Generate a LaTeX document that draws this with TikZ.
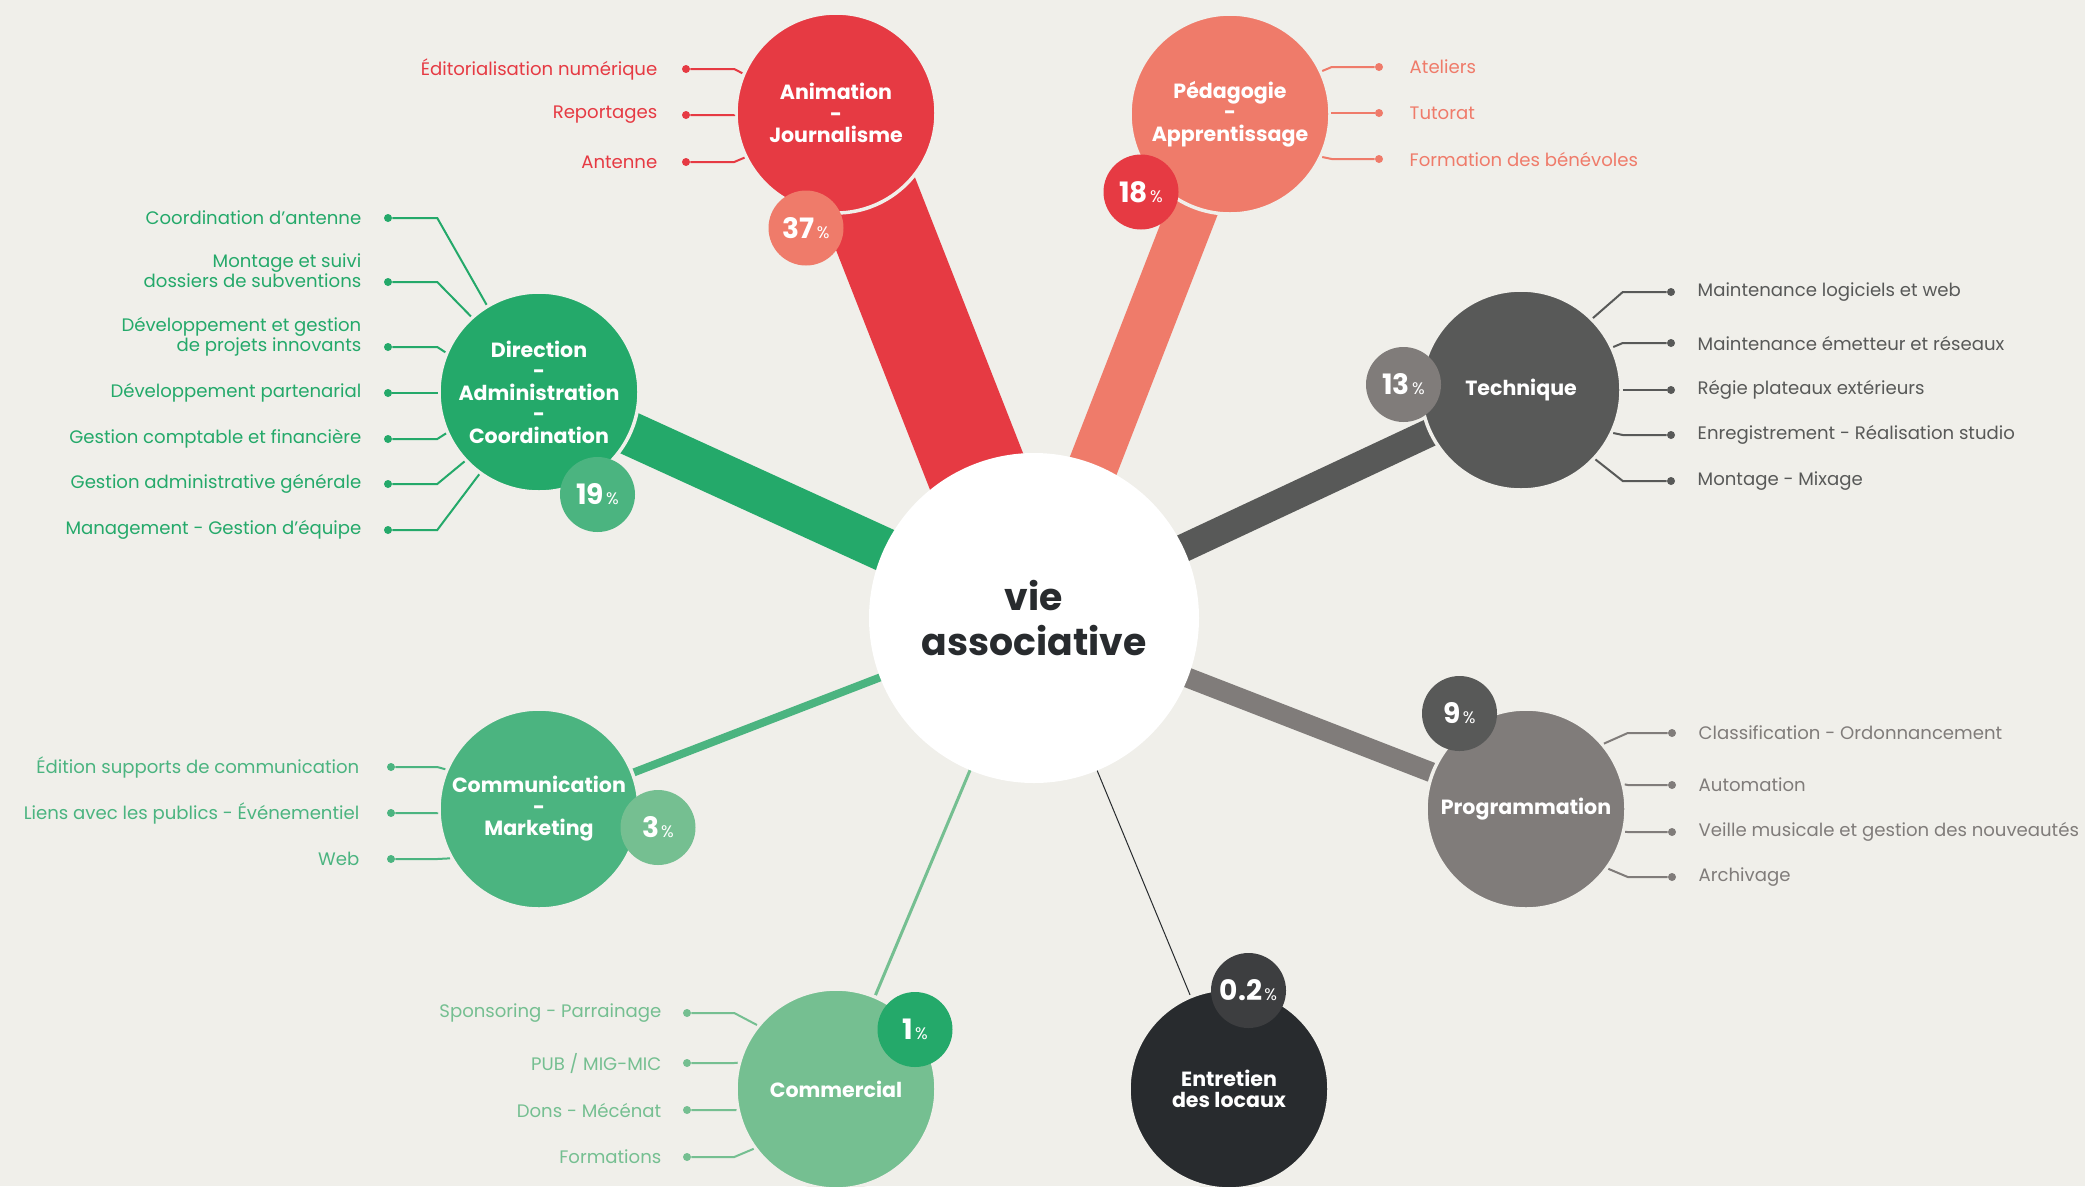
\documentclass[tikz,border=0pt]{standalone}
\usepackage{fontspec}
\setmainfont{Poppins}
\usepackage{tikz}
\usetikzlibrary{positioning, backgrounds}
\usepackage{xcolor}
\definecolor{bgcream}{HTML}{F0EFEA}
\definecolor{animred}{HTML}{E63A43}
\definecolor{pedasalmon}{HTML}{EF7B6A}
\definecolor{dirgreen}{HTML}{24A96A}
\definecolor{comgreen}{HTML}{4BB480}
\definecolor{comlight}{HTML}{75BF91}
\definecolor{techgrey}{HTML}{585958}
\definecolor{proggrey}{HTML}{807C7A}
\definecolor{darktext}{HTML}{282B2E}
\definecolor{entgrey}{HTML}{3D3E40}

\newcommand{\leaffont}{\fontsize{10.3}{11.4}\selectfont}
\newcommand{\polefont}{\fontsize{11.7}{12.2}\selectfont\bfseries}
\newcommand{\hubfont}{\fontsize{21.5}{25.5}\selectfont\bfseries}
\newcommand{\pct}[1]{{\fontsize{16}{16}\selectfont\bfseries #1}\kern1.2pt{\fontsize{9.5}{9.5}\selectfont\%}}

\begin{document}
\begin{tikzpicture}[
    x=0.2mm, y=-0.2mm,
    hub/.style={circle, fill=white, inner sep=0pt, minimum size=66mm,
                font=\hubfont, text=darktext, align=center},
    pole/.style={circle, inner sep=0pt, minimum size=40mm, draw=bgcream,
                 line width=0.7mm, font=\polefont, text=white, align=center},
    bubble/.style={circle, inner sep=0pt, minimum size=15mm, text=white},
    dot/.style={circle, inner sep=0pt, minimum size=1.6mm},
    leaf/.style={inner sep=0pt, font=\leaffont, align=right},
    link/.style={line width=0.4mm},
    spoke/.style={line cap=butt},
  ]
    \useasboundingbox (0,0) rectangle (2085,1186);

    % Centre
    \node[hub] (vie) at (1034,618) {vie\\associative};

    % Animation - Journalisme
    \node[pole, fill=animred] (anim) at (836,113) {Animation\\-\\Journalisme};
    \node[bubble, fill=pedasalmon] (animpct) at (806,228) {\pct{37}};
    \node[dot, fill=animred] (a1) at (686,69) {};
    \node[dot, fill=animred] (a2) at (686,115) {};
    \node[dot, fill=animred] (a3) at (686,162) {};
    \node[leaf, text=animred, left=4.8mm of a1] (a1t) {Éditorialisation numérique};
    \node[leaf, text=animred, left=4.8mm of a2] (a2t) {Reportages};
    \node[leaf, text=animred, left=4.8mm of a3] (a3t) {Antenne};
    \draw[link, animred] (anim.157) -- (anim.west |- a1) -- (a1);
    \draw[link, animred] (anim.181) -- (anim.west |- a2) -- (a2);
    \draw[link, animred] (anim.206) -- (anim.west |- a3) -- (a3);

    % Pedagogie - Apprentissage
    \node[pole, fill=pedasalmon] (peda) at (1230,114) {Pédagogie\\-\\Apprentissage};
    \node[bubble, fill=animred] (pedapct) at (1141,192) {\pct{18}};
    \node[dot, fill=pedasalmon] (p1) at (1379,67) {};
    \node[dot, fill=pedasalmon] (p2) at (1379,113) {};
    \node[dot, fill=pedasalmon] (p3) at (1379,159) {};
    \node[leaf, text=pedasalmon, right=5.2mm of p1] (p1t) {Ateliers};
    \node[leaf, text=pedasalmon, right=5.2mm of p2] (p2t) {Tutorat};
    \node[leaf, text=pedasalmon, right=5.2mm of p3] (p3t) {Formation des bénévoles};
    \draw[link, pedasalmon] (peda.25) -- (peda.east |- p1) -- (p1);
    \draw[link, pedasalmon] (peda.0) -- (peda.east |- p2) -- (p2);
    \draw[link, pedasalmon] (peda.-25) -- (peda.east |- p3) -- (p3);

    % Direction - Administration - Coordination
    \node[pole, fill=dirgreen] (dir) at (539,392) {Direction\\-\\Administration\\-\\Coordination};
    \node[bubble, fill=comgreen] (dirpct) at (597.5,494.5) {\pct{19}};
    \node[dot, fill=dirgreen] (d1) at (388,218) {};
    \node[dot, fill=dirgreen] (d2) at (388,282) {};
    \node[dot, fill=dirgreen] (d3) at (388,347) {};
    \node[dot, fill=dirgreen] (d4) at (388,393) {};
    \node[dot, fill=dirgreen] (d5) at (388,439) {};
    \node[dot, fill=dirgreen] (d6) at (388,484) {};
    \node[dot, fill=dirgreen] (d7) at (388,530) {};
    \node[leaf, text=dirgreen, left=4.4mm of d1] (d1t) {Coordination d’antenne};
    \node[leaf, text=dirgreen, left=4.4mm of d2, anchor=south east, yshift=-1.2mm] (d2t)
      {Montage et suivi\\dossiers de subventions};
    \node[leaf, text=dirgreen, left=4.4mm of d3, anchor=south east, yshift=-2mm] (d3t)
      {Développement et gestion\\de projets innovants};
    \node[leaf, text=dirgreen, left=4.4mm of d4] (d4t) {Développement partenarial};
    \node[leaf, text=dirgreen, left=4.4mm of d5] (d5t) {Gestion comptable et financière};
    \node[leaf, text=dirgreen, left=4.4mm of d6] (d6t) {Gestion administrative générale};
    \node[leaf, text=dirgreen, left=4.4mm of d7] (d7t) {Management - Gestion d’équipe};
    \draw[link, dirgreen] (dir.121) -- (dir.west |- d1) -- (d1);
    \draw[link, dirgreen] (dir.132) -- (dir.west |- d2) -- (d2);
    \draw[link, dirgreen] (dir.157) -- (dir.west |- d3) -- (d3);
    \draw[link, dirgreen] (dir.180) -- (dir.west |- d4) -- (d4);
    \draw[link, dirgreen] (dir.204) -- (dir.west |- d5) -- (d5);
    \draw[link, dirgreen] (dir.223) -- (dir.west |- d6) -- (d6);
    \draw[link, dirgreen] (dir.234) -- (dir.west |- d7) -- (d7);

    % Technique
    \node[pole, fill=techgrey] (tech) at (1521,390) {Technique};
    \node[bubble, fill=proggrey] (techpct) at (1403.5,384.5) {\pct{13}};
    \node[dot, fill=techgrey] (t1) at (1671,292) {};
    \node[dot, fill=techgrey] (t2) at (1671,343) {};
    \node[dot, fill=techgrey] (t3) at (1671,390) {};
    \node[dot, fill=techgrey] (t4) at (1671,435) {};
    \node[dot, fill=techgrey] (t5) at (1671,481) {};
    \node[leaf, text=techgrey, right=4.4mm of t1] (t1t) {Maintenance logiciels et web};
    \node[leaf, text=techgrey, right=4.4mm of t2] (t2t) {Maintenance émetteur et réseaux};
    \node[leaf, text=techgrey, right=4.4mm of t3] (t3t) {Régie plateaux extérieurs};
    \node[leaf, text=techgrey, right=4.4mm of t4] (t4t) {Enregistrement - Réalisation studio};
    \node[leaf, text=techgrey, right=4.4mm of t5] (t5t) {Montage - Mixage};
    \draw[link, techgrey] (tech.45) -- (tech.east |- t1) -- (t1);
    \draw[link, techgrey] (tech.25) -- (tech.east |- t2) -- (t2);
    \draw[link, techgrey] (tech.0) -- (tech.east |- t3) -- (t3);
    \draw[link, techgrey] (tech.-25) -- (tech.east |- t4) -- (t4);
    \draw[link, techgrey] (tech.-43) -- (tech.east |- t5) -- (t5);

    % Programmation
    \node[pole, fill=proggrey] (prog) at (1526,809) {Programmation};
    \node[bubble, fill=techgrey] (progpct) at (1459.5,713.5) {\pct{9}};
    \node[dot, fill=proggrey] (g1) at (1672,733) {};
    \node[dot, fill=proggrey] (g2) at (1672,785) {};
    \node[dot, fill=proggrey] (g3) at (1672,832) {};
    \node[dot, fill=proggrey] (g4) at (1672,877) {};
    \node[leaf, text=proggrey, right=4.4mm of g1] (g1t) {Classification - Ordonnancement};
    \node[leaf, text=proggrey, right=4.4mm of g2] (g2t) {Automation};
    \node[leaf, text=proggrey, right=4.4mm of g3] (g3t) {Veille musicale et gestion des nouveautés};
    \node[leaf, text=proggrey, right=4.4mm of g4] (g4t) {Archivage};
    \draw[link, proggrey] (prog.40) -- (prog.east |- g1) -- (g1);
    \draw[link, proggrey] (prog.14) -- (prog.east |- g2) -- (g2);
    \draw[link, proggrey] (prog.-13) -- (prog.east |- g3) -- (g3);
    \draw[link, proggrey] (prog.-36) -- (prog.east |- g4) -- (g4);

    % Communication - Marketing
    \node[pole, fill=comgreen] (comm) at (539,809) {Communication\\-\\Marketing};
    \node[bubble, fill=comlight] (commpct) at (658,827.5) {\pct{3}};
    \node[dot, fill=comgreen] (c1) at (391,767) {};
    \node[dot, fill=comgreen] (c2) at (391,813) {};
    \node[dot, fill=comgreen] (c3) at (391,859) {};
    \node[leaf, text=comgreen, left=5.4mm of c1] (c1t) {Édition supports de communication};
    \node[leaf, text=comgreen, left=5.4mm of c2] (c2t) {Liens avec les publics - Événementiel};
    \node[leaf, text=comgreen, left=5.4mm of c3] (c3t) {Web};
    \draw[link, comgreen] (comm.157) -- (comm.west |- c1) -- (c1);
    \draw[link, comgreen] (comm.182) -- (comm.west |- c2) -- (c2);
    \draw[link, comgreen] (comm.209) -- (comm.west |- c3) -- (c3);

    % Commercial
    \node[pole, fill=comlight] (comc) at (836,1089) {Commercial};
    \node[bubble, fill=dirgreen] (comcpct) at (915,1029.5) {\pct{1}};
    \node[dot, fill=comlight] (k1) at (687,1013) {};
    \node[dot, fill=comlight] (k2) at (687,1063) {};
    \node[dot, fill=comlight] (k3) at (687,1110) {};
    \node[dot, fill=comlight] (k4) at (687,1157) {};
    \node[leaf, text=comlight, left=4.2mm of k1] (k1t) {Sponsoring - Parrainage};
    \node[leaf, text=comlight, left=4.2mm of k2] (k2t) {PUB / MIG-MIC};
    \node[leaf, text=comlight, left=4.2mm of k3] (k3t) {Dons - Mécénat};
    \node[leaf, text=comlight, left=4.2mm of k4] (k4t) {Formations};
    \draw[link, comlight] (comc.141) -- (comc.west |- k1) -- (k1);
    \draw[link, comlight] (comc.165) -- (comc.west |- k2) -- (k2);
    \draw[link, comlight] (comc.192) -- (comc.west |- k3) -- (k3);
    \draw[link, comlight] (comc.216) -- (comc.west |- k4) -- (k4);

    % Entretien des locaux
    \node[pole, fill=darktext] (entr) at (1229,1089) {Entretien\\des locaux};
    \node[bubble, fill=entgrey] (entrpct) at (1248.5,990.5) {\pct{0.2}};

    % Spokes behind everything
    \begin{scope}[on background layer]
      \fill[bgcream] (0,0) rectangle (2085,1186);
      \draw[spoke, animred, line width=20mm] (anim.center) -- (vie.center);
      \draw[spoke, pedasalmon, line width=10mm] (peda.center) -- (vie.center);
      \draw[spoke, dirgreen, line width=8.8mm] (dir.center) -- (vie.center);
      \draw[spoke, techgrey, line width=5.6mm] (tech.center) -- (vie.center);
      \draw[spoke, proggrey, line width=4mm] (prog.center) -- (vie.center);
      \draw[spoke, comgreen, line width=1.6mm] (comm.center) -- (vie.center);
      \draw[spoke, comlight, line width=0.6mm] (comc.center) -- (vie.center);
      \draw[spoke, darktext, line width=0.2mm] (entr.center) -- (vie.center);
    \end{scope}
  \end{tikzpicture}
\end{document}
